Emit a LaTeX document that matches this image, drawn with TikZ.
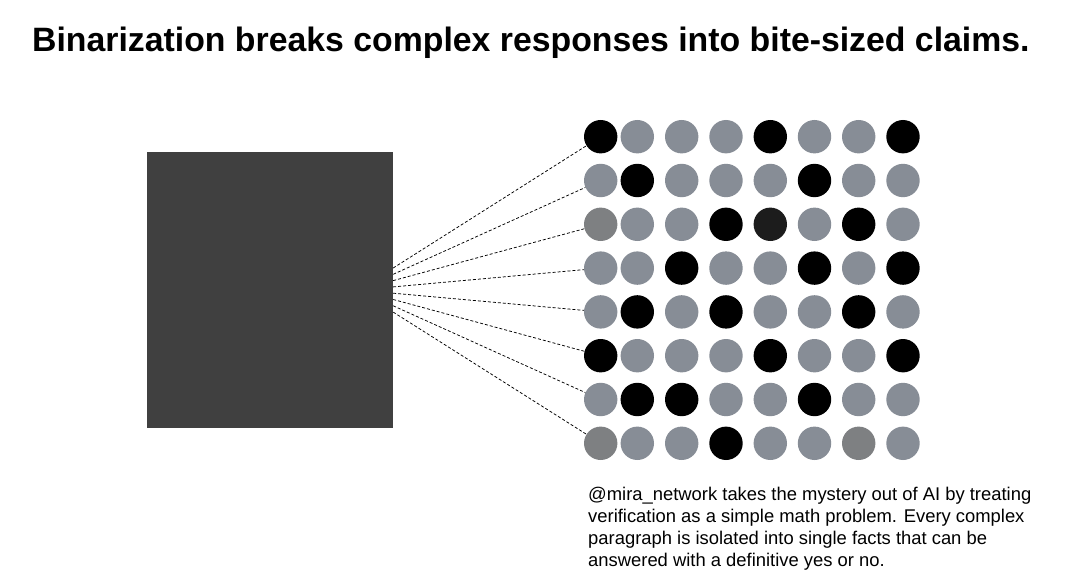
\documentclass[tikz,border=0pt]{standalone}
\usepackage{fontspec}
\setmainfont{Liberation Sans}
\definecolor{dotgray}{RGB}{135,141,150}
\definecolor{warmgray}{RGB}{126,128,130}
\definecolor{dotdark}{RGB}{28,28,28}
\definecolor{slab}{RGB}{64,64,64}
\begin{document}
\begin{tikzpicture}[x=1pt,y=-1pt,
  dot/.style={circle,inner sep=0pt,minimum size=33.4pt},
  link/.style={dashed,dash pattern=on 3pt off 2pt,line width=.75pt}]
  \useasboundingbox[fill=white] (0,0) rectangle (1080,575);
  \node[anchor=base west,inner sep=0pt,font=\bfseries\fontsize{33.8}{38}\selectfont] (title) at (32,52)
    {Binarization breaks complex responses into bite-sized claims.};
  \node[fill=slab,inner sep=0pt,minimum width=246pt,minimum height=276pt] (block) at (270,290) {};
  % the 8x8 field of yes/no dots
  \def\colx{{600.7,637.3,681.7,726,770.3,814.5,858.7,903}}
  \foreach \pat [count=\r] in {
      {black,dotgray,dotgray,dotgray,black,dotgray,dotgray,black},
      {dotgray,black,dotgray,dotgray,dotgray,black,dotgray,dotgray},
      {warmgray,dotgray,dotgray,black,dotdark,dotgray,black,dotgray},
      {dotgray,dotgray,black,dotgray,dotgray,black,dotgray,black},
      {dotgray,black,dotgray,black,dotgray,dotgray,black,dotgray},
      {black,dotgray,dotgray,dotgray,black,dotgray,dotgray,black},
      {dotgray,black,black,dotgray,dotgray,black,dotgray,dotgray},
      {warmgray,dotgray,dotgray,black,dotgray,dotgray,warmgray,dotgray}}
    \foreach \c [count=\col] in \pat {
      \pgfmathsetmacro\cx{\colx[\col-1]}
      \node[dot,fill=\c] (d-\r-\col) at (\cx,{136.7+43.8*(\r-1)}) {};
    }
  \foreach \r in {1,...,8} {
    \coordinate (s\r) at ([yshift={22-6.3*(\r-1)}]block.east);
    \draw[link] (s\r) -- (d-\r-1);
  }
  \node[anchor=base west,inner sep=0pt,align=left,
        font=\fontsize{18.4}{21.7}\selectfont] (note) at (588,566)
    {@mira\_network takes the mystery out of AI by treating\\
     verification as a simple math problem. Every complex\\
     paragraph is isolated into single facts that can be\\
     answered with a definitive yes or no.};
\end{tikzpicture}
\end{document}
